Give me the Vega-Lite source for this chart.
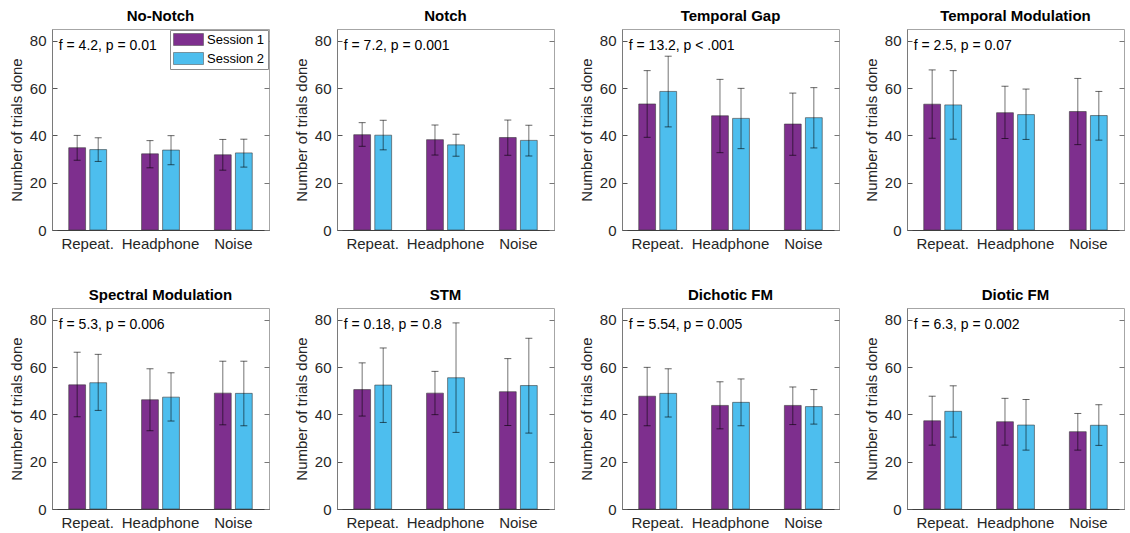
{
  "$schema": "https://vega.github.io/schema/vega-lite/v6.json",
  "padding": {"left": 8, "top": 8, "right": 4, "bottom": 4},
  "background": "white",
  "config": {
    "font": "Liberation Sans",
    "view": {"stroke": "#a6a6a6", "strokeWidth": 1},
    "axis": {"labelFontSize": 15, "labelColor": "#262626", "titleFontSize": 15, "titleFontWeight": "normal", "titleColor": "#262626", "grid": false},
    "header": {"labelFontSize": 15, "labelFontWeight": "bold", "labelColor": "#000", "labelPadding": 5, "title": null}
  },
  "bounds": "flush",
  "datasets": {
    "trials": [
      {"task": "No-Notch", "cond": "Repeat.", "session": "Session 1", "mean": 34.8, "lo": 29.5, "hi": 40.0},
      {"task": "No-Notch", "cond": "Repeat.", "session": "Session 2", "mean": 34.0, "lo": 29.0, "hi": 39.0},
      {"task": "No-Notch", "cond": "Headphone", "session": "Session 1", "mean": 32.2, "lo": 26.3, "hi": 37.8},
      {"task": "No-Notch", "cond": "Headphone", "session": "Session 2", "mean": 33.8, "lo": 27.6, "hi": 39.9},
      {"task": "No-Notch", "cond": "Noise", "session": "Session 1", "mean": 31.8, "lo": 25.3, "hi": 38.3},
      {"task": "No-Notch", "cond": "Noise", "session": "Session 2", "mean": 32.6, "lo": 26.6, "hi": 38.4},
      {"task": "Notch", "cond": "Repeat.", "session": "Session 1", "mean": 40.3, "lo": 35.4, "hi": 45.4},
      {"task": "Notch", "cond": "Repeat.", "session": "Session 2", "mean": 40.1, "lo": 33.9, "hi": 46.4},
      {"task": "Notch", "cond": "Headphone", "session": "Session 1", "mean": 38.2, "lo": 31.7, "hi": 44.4},
      {"task": "Notch", "cond": "Headphone", "session": "Session 2", "mean": 36.0, "lo": 31.2, "hi": 40.5},
      {"task": "Notch", "cond": "Noise", "session": "Session 1", "mean": 39.1, "lo": 31.6, "hi": 46.5},
      {"task": "Notch", "cond": "Noise", "session": "Session 2", "mean": 37.9, "lo": 31.3, "hi": 44.3},
      {"task": "Temporal Gap", "cond": "Repeat.", "session": "Session 1", "mean": 53.3, "lo": 39.2, "hi": 67.4},
      {"task": "Temporal Gap", "cond": "Repeat.", "session": "Session 2", "mean": 58.6, "lo": 43.6, "hi": 73.5},
      {"task": "Temporal Gap", "cond": "Headphone", "session": "Session 1", "mean": 48.3, "lo": 32.7, "hi": 63.7},
      {"task": "Temporal Gap", "cond": "Headphone", "session": "Session 2", "mean": 47.2, "lo": 34.4, "hi": 59.9},
      {"task": "Temporal Gap", "cond": "Noise", "session": "Session 1", "mean": 44.8, "lo": 31.6, "hi": 57.9},
      {"task": "Temporal Gap", "cond": "Noise", "session": "Session 2", "mean": 47.5, "lo": 34.7, "hi": 60.2},
      {"task": "Temporal Modulation", "cond": "Repeat.", "session": "Session 1", "mean": 53.2, "lo": 38.8, "hi": 67.7},
      {"task": "Temporal Modulation", "cond": "Repeat.", "session": "Session 2", "mean": 52.9, "lo": 38.4, "hi": 67.4},
      {"task": "Temporal Modulation", "cond": "Headphone", "session": "Session 1", "mean": 49.6, "lo": 38.7, "hi": 60.8},
      {"task": "Temporal Modulation", "cond": "Headphone", "session": "Session 2", "mean": 48.8, "lo": 38.3, "hi": 59.6},
      {"task": "Temporal Modulation", "cond": "Noise", "session": "Session 1", "mean": 50.1, "lo": 36.1, "hi": 64.1},
      {"task": "Temporal Modulation", "cond": "Noise", "session": "Session 2", "mean": 48.4, "lo": 38.0, "hi": 58.6},
      {"task": "Spectral Modulation", "cond": "Repeat.", "session": "Session 1", "mean": 52.5, "lo": 39.0, "hi": 66.3},
      {"task": "Spectral Modulation", "cond": "Repeat.", "session": "Session 2", "mean": 53.4, "lo": 41.7, "hi": 65.4},
      {"task": "Spectral Modulation", "cond": "Headphone", "session": "Session 1", "mean": 46.2, "lo": 33.1, "hi": 59.3},
      {"task": "Spectral Modulation", "cond": "Headphone", "session": "Session 2", "mean": 47.3, "lo": 37.2, "hi": 57.6},
      {"task": "Spectral Modulation", "cond": "Noise", "session": "Session 1", "mean": 49.0, "lo": 35.6, "hi": 62.5},
      {"task": "Spectral Modulation", "cond": "Noise", "session": "Session 2", "mean": 48.9, "lo": 35.2, "hi": 62.5},
      {"task": "STM", "cond": "Repeat.", "session": "Session 1", "mean": 50.5, "lo": 39.3, "hi": 61.8},
      {"task": "STM", "cond": "Repeat.", "session": "Session 2", "mean": 52.4, "lo": 36.6, "hi": 68.1},
      {"task": "STM", "cond": "Headphone", "session": "Session 1", "mean": 49.0, "lo": 39.9, "hi": 58.2},
      {"task": "STM", "cond": "Headphone", "session": "Session 2", "mean": 55.5, "lo": 32.4, "hi": 78.7},
      {"task": "STM", "cond": "Noise", "session": "Session 1", "mean": 49.6, "lo": 35.3, "hi": 63.6},
      {"task": "STM", "cond": "Noise", "session": "Session 2", "mean": 52.2, "lo": 32.1, "hi": 72.2},
      {"task": "Dichotic FM", "cond": "Repeat.", "session": "Session 1", "mean": 47.7, "lo": 35.2, "hi": 59.9},
      {"task": "Dichotic FM", "cond": "Repeat.", "session": "Session 2", "mean": 48.9, "lo": 38.9, "hi": 59.3},
      {"task": "Dichotic FM", "cond": "Headphone", "session": "Session 1", "mean": 43.8, "lo": 33.9, "hi": 53.8},
      {"task": "Dichotic FM", "cond": "Headphone", "session": "Session 2", "mean": 45.1, "lo": 35.2, "hi": 55.0},
      {"task": "Dichotic FM", "cond": "Noise", "session": "Session 1", "mean": 43.8, "lo": 35.7, "hi": 51.6},
      {"task": "Dichotic FM", "cond": "Noise", "session": "Session 2", "mean": 43.3, "lo": 35.9, "hi": 50.5},
      {"task": "Diotic FM", "cond": "Repeat.", "session": "Session 1", "mean": 37.3, "lo": 27.0, "hi": 47.7},
      {"task": "Diotic FM", "cond": "Repeat.", "session": "Session 2", "mean": 41.3, "lo": 30.4, "hi": 52.1},
      {"task": "Diotic FM", "cond": "Headphone", "session": "Session 1", "mean": 36.9, "lo": 27.0, "hi": 46.8},
      {"task": "Diotic FM", "cond": "Headphone", "session": "Session 2", "mean": 35.5, "lo": 24.9, "hi": 46.3},
      {"task": "Diotic FM", "cond": "Noise", "session": "Session 1", "mean": 32.7, "lo": 24.9, "hi": 40.4},
      {"task": "Diotic FM", "cond": "Noise", "session": "Session 2", "mean": 35.4, "lo": 26.9, "hi": 44.1},
      {"task": "No-Notch", "stat": "f = 4.2, p = 0.01"},
      {"task": "Notch", "stat": "f = 7.2, p = 0.001"},
      {"task": "Temporal Gap", "stat": "f = 13.2, p < .001"},
      {"task": "Temporal Modulation", "stat": "f = 2.5, p = 0.07"},
      {"task": "Spectral Modulation", "stat": "f = 5.3, p = 0.006"},
      {"task": "STM", "stat": "f = 0.18, p = 0.8"},
      {"task": "Dichotic FM", "stat": "f = 5.54, p = 0.005"},
      {"task": "Diotic FM", "stat": "f = 6.3, p = 0.002"}
    ]
  },
  "data": {"name": "trials"},
  "facet": {
    "field": "task",
    "type": "nominal",
    "sort": ["No-Notch", "Notch", "Temporal Gap", "Temporal Modulation", "Spectral Modulation", "STM", "Dichotic FM", "Diotic FM"]
  },
  "columns": 4,
  "spacing": {"column": 68, "row": 78},
  "resolve": {"axis": {"x": "independent", "y": "independent"}},
  "spec": {
    "width": 217,
    "height": 201,
    "encoding": {
      "x": {
        "field": "cond",
        "type": "nominal",
        "sort": ["Repeat.", "Headphone", "Noise"],
        "scale": {"domain": ["Repeat.", "Headphone", "Noise"], "paddingInner": 0.48, "paddingOuter": 0.23},
        "axis": {"title": null, "labelAngle": 0, "ticks": false, "domainColor": "#404040", "labelPadding": 6}
      },
      "xOffset": {
        "field": "session",
        "type": "nominal",
        "scale": {"domain": ["Session 1", "Session 2"], "paddingInner": 0.2}
      }
    },
    "resolve": {"scale": {"y": "independent"}},
    "layer": [
      {
        "layer": [
          {
            "transform": [{"filter": "isValid(datum.mean)"}],
            "mark": {"type": "bar", "stroke": "#3a3a3a", "strokeWidth": 0.6},
            "encoding": {
              "y": {
                "field": "mean",
                "type": "quantitative",
                "scale": {"domain": [0, 85], "nice": false},
                "axis": {"title": "Number of trials done", "values": [0, 20, 40, 60, 80], "tickSize": -5, "tickColor": "#555", "labelPadding": 11, "domainColor": "#7a7a7a", "titlePadding": 5}
              },
              "color": {
                "field": "session",
                "type": "nominal",
                "scale": {"domain": ["Session 1", "Session 2"], "range": ["#7E2F8E", "#4DBEEE"]},
                "legend": {
                  "title": null,
                  "orient": "none",
                  "legendX": 118,
                  "legendY": 1,
                  "fillColor": "white",
                  "strokeColor": "#8c8c8c",
                  "padding": 3,
                  "labelFontSize": 13,
                  "labelColor": "#000",
                  "symbolType": "M-1,-1H4V1H-1Z",
                  "symbolSize": 144,
                  "symbolStrokeColor": "#444",
                  "symbolStrokeWidth": 0.5,
                  "symbolOpacity": 1,
                  "rowPadding": 4,
                  "labelOffset": 21
                }
              }
            }
          },
          {
            "transform": [{"filter": "isValid(datum.mean)"}],
            "mark": {"type": "tick", "color": "#000", "opacity": 0.6, "size": 7, "thickness": 1, "orient": "horizontal"},
            "encoding": {"y": {"field": "lo", "type": "quantitative"}}
          },
          {
            "transform": [{"filter": "isValid(datum.mean)"}],
            "mark": {"type": "tick", "color": "#000", "opacity": 0.6, "size": 7, "thickness": 1, "orient": "horizontal"},
            "encoding": {"y": {"field": "hi", "type": "quantitative"}}
          },
          {
            "transform": [{"filter": "isValid(datum.stat)"}],
            "mark": {"type": "text", "align": "left", "baseline": "middle", "fontSize": 14, "color": "#000", "dx": -10},
            "encoding": {
              "x": {"datum": "Repeat.", "bandPosition": 0},
              "xOffset": {"value": 0},
              "y": {"datum": 78},
              "text": {"field": "stat"}
            }
          }
        ]
      },
      {
        "transform": [{"filter": "isValid(datum.mean)"}],
        "mark": {"type": "rule", "color": "#000", "opacity": 0.55, "strokeWidth": 1},
        "encoding": {
          "y": {
            "field": "lo",
            "type": "quantitative",
            "scale": {"domain": [0, 85], "nice": false},
            "axis": {"orient": "right", "title": null, "labels": false, "domain": false, "values": [0, 20, 40, 60, 80], "tickSize": -5, "tickColor": "#777"}
          },
          "y2": {"field": "hi"}
        }
      }
    ]
  }
}
